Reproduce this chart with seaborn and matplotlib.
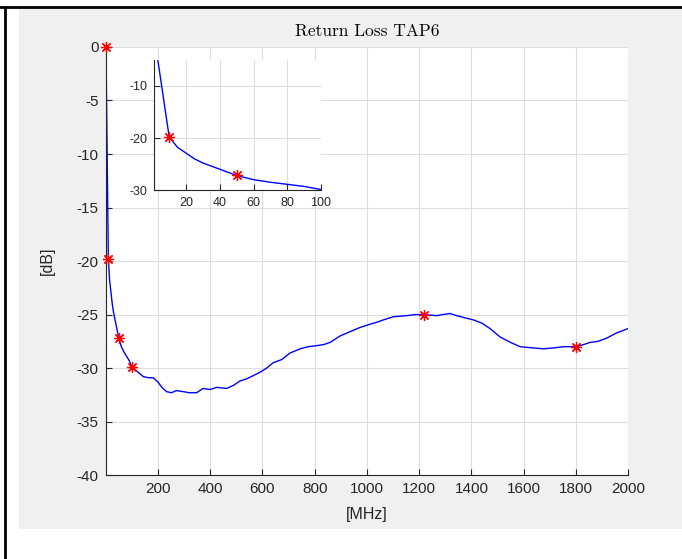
import numpy as np
import pandas as pd
import matplotlib
matplotlib.use('Agg')
import matplotlib.pyplot as plt
import seaborn as sns
from matplotlib.patches import Rectangle
from matplotlib.lines import Line2D

# Return loss curve
freq = [1, 10, 15, 20, 25, 30, 35, 40, 50, 60, 70, 80, 90, 100, 120, 144, 165,
        182, 200, 215, 233, 252, 270, 297, 320, 348, 373, 400, 425, 463, 490,
        514, 540, 565, 590, 616, 641, 674, 705, 744, 775, 808, 835, 859, 897,
        935, 974, 1012, 1040, 1063, 1101, 1152, 1185, 1220, 1267, 1290, 1318,
        1344, 1375, 1408, 1440, 1471, 1510, 1550, 1586, 1630, 1676, 1720, 1752,
        1800, 1830, 1854, 1885, 1918, 1957, 1980, 2000]
rl_db = [0.0, -19.8, -21.8, -22.9, -24.0, -24.8, -25.4, -26.0, -27.2, -28.0,
         -28.5, -28.9, -29.3, -29.9, -30.3, -30.8, -30.9, -30.9, -31.3, -31.8,
         -32.2, -32.3, -32.1, -32.2, -32.3, -32.3, -31.9, -32.0, -31.8, -31.9,
         -31.6, -31.2, -31.0, -30.7, -30.4, -30.0, -29.5, -29.2, -28.6, -28.2,
         -28.0, -27.9, -27.8, -27.6, -27.0, -26.6, -26.2, -25.9, -25.7, -25.5,
         -25.2, -25.1, -25.0, -25.0, -25.1, -25.0, -24.9, -25.1, -25.3, -25.5,
         -25.8, -26.3, -27.1, -27.6, -28.0, -28.1, -28.2, -28.1, -28.0, -28.0,
         -27.8, -27.6, -27.5, -27.2, -26.7, -26.5, -26.3]

# marked points
mark_freq = [1, 10, 50, 100, 1220, 1800]
mark_db = [0.0, -19.8, -27.2, -29.9, -25.0, -28.0]

df = pd.DataFrame({'freq': freq, 'rl': rl_db})
marks = pd.DataFrame({'freq': mark_freq, 'rl': mark_db})

sns.set_theme(style='whitegrid')
plt.rcParams['font.family'] = ['Liberation Sans', 'DejaVu Sans']
plt.rcParams['axes.unicode_minus'] = False

fig = plt.figure(figsize=(6.82, 5.59), dpi=100)
fig.patch.set_facecolor('white')

# grey figure panel and the black frame lines
fig.patches.append(Rectangle((0.0279, 0.0537), 0.972, 0.932, transform=fig.transFigure,
                             facecolor='#f0f0f0', edgecolor='none', zorder=-5))
fig.lines.append(Line2D([0.0073, 0.0073], [0, 0.988], transform=fig.transFigure,
                        color='black', lw=2, zorder=-4))
fig.lines.append(Line2D([0, 1], [0.988, 0.988], transform=fig.transFigure,
                        color='black', lw=2, zorder=-4))

txt = '#262626'
grid_c = '#dedede'


def style_axes(ax, fs):
    ax.set_facecolor('white')
    for s in ['top', 'right']:
        ax.spines[s].set_visible(False)
    for s in ['left', 'bottom']:
        ax.spines[s].set_color(txt)
        ax.spines[s].set_linewidth(0.8)
    ax.grid(True, color=grid_c, lw=0.8)
    ax.tick_params(direction='in', length=4, width=0.8, color=txt, labelcolor=txt,
                   labelsize=fs, pad=5, left=True, bottom=True)


# main axes
ax = fig.add_axes([0.155, 0.150, 0.766, 0.766])
sns.lineplot(data=df, x='freq', y='rl', ax=ax, color='#0000ff', lw=1.0,
             estimator=None, sort=False)
ax.plot(marks.freq, marks.rl, linestyle='none', marker=(8, 2, 0), color='red',
        markersize=8, mew=0.9, clip_on=False, zorder=5)
ax.set_xlim(0, 2000)
ax.set_ylim(-40, 0)
ax.set_xticks(range(200, 2001, 200))
ax.set_yticks(range(-40, 1, 5))
style_axes(ax, 11)
ax.set_xlabel('[MHz]', fontsize=11.5, color=txt, labelpad=8)
ax.set_ylabel('[dB]', fontsize=11.5, color=txt, labelpad=16)
ax.set_title('Return Loss TAP6', family='cmr10', fontsize=12.5, color='black', pad=8)

# inset zoom on the first 100 MHz
axi = fig.add_axes([0.2258, 0.660, 0.2449, 0.2327])
sns.lineplot(data=df[df.freq <= 100], x='freq', y='rl', ax=axi, color='#0000ff',
             lw=1.0, estimator=None, sort=False)
inset_marks = marks[(marks.freq > 1) & (marks.freq < 100)]
axi.plot(inset_marks.freq, inset_marks.rl, linestyle='none', marker=(8, 2, 0),
         color='red', markersize=8, mew=0.9, zorder=5)
axi.set_xlim(1, 100)
axi.set_ylim(-30, -5)
axi.set_xticks(range(20, 101, 20))
axi.set_yticks([-30, -20, -10])
style_axes(axi, 9)
axi.set_xlabel('')
axi.set_ylabel('')

fig.savefig('out.png', dpi=100, facecolor=fig.get_facecolor())
